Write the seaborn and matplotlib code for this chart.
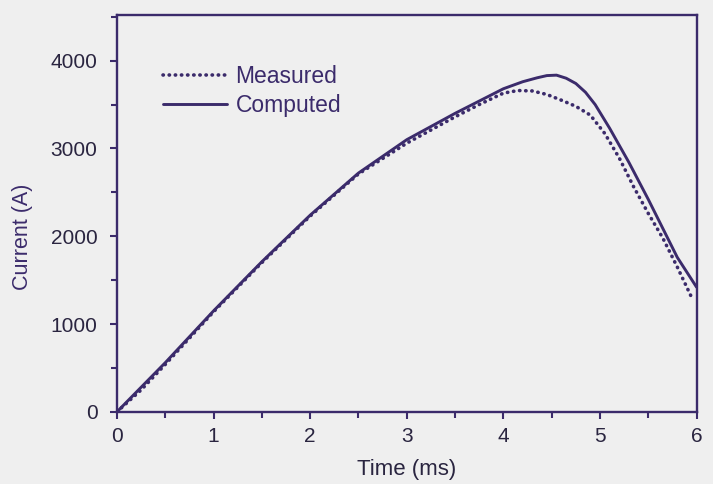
import pandas as pd
import matplotlib
matplotlib.use("Agg")
import matplotlib.pyplot as plt
from matplotlib.ticker import MultipleLocator
import seaborn as sns

sns.set_theme(style="ticks")
plt.rcParams['font.family'] = ['Liberation Sans', 'DejaVu Sans']

# values
t_measured = [0, 0.25, 0.5, 1.0, 1.5, 2.0, 2.5, 3.0, 3.5, 3.75, 4.0, 4.15, 4.3,
              4.45, 4.6, 4.75, 4.9, 5.05, 5.2, 5.35, 5.5, 5.65, 5.8, 5.95]
i_measured = [0, 250, 540, 1140, 1700, 2230, 2710, 3060, 3360, 3500, 3630, 3660,
              3655, 3615, 3550, 3480, 3380, 3170, 2890, 2560, 2260, 1980, 1650, 1300]

t_computed = [0, 0.5, 1.0, 1.5, 2.0, 2.5, 3.0, 3.5, 3.75, 4.0, 4.2, 4.35, 4.45,
              4.55, 4.65, 4.75, 4.85, 4.95, 5.1, 5.3, 5.5, 5.8, 6.0]
i_computed = [0, 560, 1150, 1710, 2240, 2720, 3100, 3400, 3540, 3680, 3760, 3805,
              3830, 3835, 3800, 3740, 3640, 3500, 3230, 2840, 2420, 1760, 1420]

ink = '#3b2b6b'
txt_col = '#2a2540'
bg = '#efefef'

fig = plt.figure(figsize=(7.13, 4.84), dpi=100, facecolor=bg)
ax = fig.add_axes([0.164, 0.149, 0.813, 0.82])
ax.set_facecolor(bg)

sns.lineplot(x=t_measured, y=i_measured, ax=ax, color=ink, linewidth=2.6,
             linestyle=(0, (0.1, 1.6)), dash_capstyle='round', label='Measured')
sns.lineplot(x=t_computed, y=i_computed, ax=ax, color=ink, linewidth=2.1,
             label='Computed')

ax.set_xlim(0, 6)
ax.set_ylim(0, 4520)
ax.xaxis.set_major_locator(MultipleLocator(1))
ax.xaxis.set_minor_locator(MultipleLocator(0.5))
ax.yaxis.set_major_locator(MultipleLocator(1000))
ax.yaxis.set_minor_locator(MultipleLocator(500))

for s in ax.spines.values():
    s.set_visible(True)
    s.set_color(ink)
    s.set_linewidth(1.7)

ax.tick_params(which='both', direction='out', color=ink, width=1.5,
               labelcolor=txt_col, labelsize=15)
ax.tick_params(which='major', length=5)
ax.tick_params(which='minor', length=4)
ax.tick_params(axis='y', pad=9)
ax.tick_params(axis='x', pad=6)

ax.set_xlabel('Time (ms)', fontsize=16, color=txt_col, labelpad=9)
ax.set_ylabel('Current (A)', fontsize=15.5, color=ink)
ax.yaxis.set_label_coords(-0.145, 0.44)

leg = ax.legend(loc='upper left', bbox_to_anchor=(0.08, 0.875), frameon=False,
                fontsize=16.5, handlelength=2.8, handletextpad=0.35,
                labelspacing=0.3, borderpad=0, borderaxespad=0)
for t in leg.get_texts():
    t.set_color(ink)

fig.savefig('out.png', dpi=100, facecolor=bg)
